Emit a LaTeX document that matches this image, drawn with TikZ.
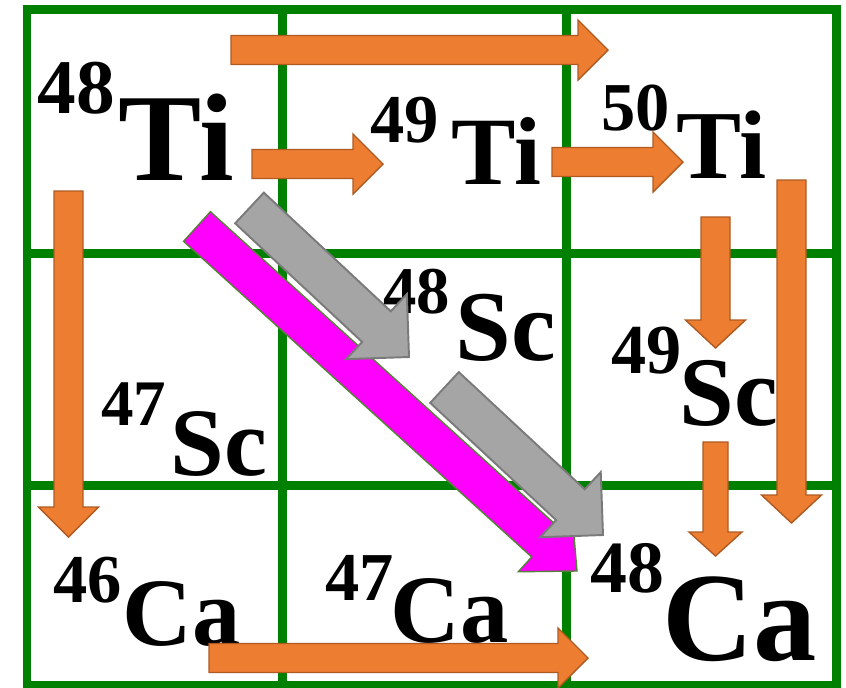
\documentclass[tikz,border=0pt]{standalone}
\usepackage{fontspec}
\setmainfont{Liberation Serif}
\definecolor{gridgreen}{RGB}{0,128,0}
\definecolor{orangefill}{RGB}{237,125,49}
\definecolor{orangeline}{RGB}{174,90,33}
\definecolor{grayfill}{RGB}{165,165,165}
\definecolor{grayline}{RGB}{122,122,122}
\definecolor{magfill}{RGB}{255,0,255}
\definecolor{magline}{RGB}{84,130,53}
\usetikzlibrary{calc}

% block arrow: style, tail, tip, shaft half width, head half width, head length
\newcommand\blockarr[6]{%
  \coordinate (hb) at ($(#3)!#6!(#2)$);
  \draw[#1] ($(#2)!#4!90:(#3)$) -- ($(hb)!#4!90:(#3)$) -- ($(hb)!#5!90:(#3)$)
    -- (#3) -- ($(hb)!#5!-90:(#3)$) -- ($(hb)!#4!-90:(#3)$) -- ($(#2)!#4!-90:(#3)$) -- cycle;
}

\begin{document}
\begin{tikzpicture}[x=0.02cm,y=-0.02cm,
  gridline/.style={gridgreen,line width=0.18cm},
  elem/.style={inner sep=0pt,anchor=base west,font=\bfseries\fontsize{#1}{#1}\selectfont},
  orangearr/.style={fill=orangefill,draw=orangeline,line width=0.8pt,line join=miter},
  grayarr/.style={fill=grayfill,draw=grayline,line width=1.1pt,line join=miter},
  magarr/.style={fill=magfill,draw=magline,line width=0.8pt,line join=miter}]

  \useasboundingbox (0,0) rectangle (846,687);

  % grid
  \foreach \gx in {27,282,566,836} \draw[gridline] (\gx,9) -- (\gx,690);
  \foreach \gy in {9,253,485,685} \draw[gridline] (22.5,\gy) -- (840.5,\gy);

  % isotopes
  \node[elem=44] (mTi48) at (37,113)  {48};
  \node[elem=71] (Ti48)  at (118,180) {Ti};
  \node[elem=39] (mTi49) at (370,142) {49};
  \node[elem=55] (Ti49)  at (451,184) {Ti};
  \node[elem=39] (mTi50) at (601,130) {50};
  \node[elem=55.5] (Ti50) at (676,178) {Ti};
  \node[elem=38] (mSc48) at (383,313) {48};
  \node[elem=57] (Sc48)  at (455,360) {Sc};
  \node[elem=40] (mSc49) at (611,373) {49};
  \node[elem=56] (Sc49)  at (679,425) {Sc};
  \node[elem=37] (mSc47) at (101,425) {47};
  \node[elem=55] (Sc47)  at (170,475) {Sc};
  \node[elem=39] (mCa46) at (53,602)  {46};
  \node[elem=55] (Ca46)  at (122,645) {Ca};
  \node[elem=39] (mCa47) at (325,600) {47};
  \node[elem=55] (Ca47)  at (390,642) {Ca};
  \node[elem=42] (mCa48) at (590,592) {48};
  \node[elem=72] (Ca48)  at (662,660) {Ca};

  % arrow ends
  \coordinate (a1) at (231,50);    \coordinate (b1) at (608,50);
  \coordinate (a2) at (252,164);   \coordinate (b2) at (383,164);
  \coordinate (a3) at (552,162);   \coordinate (b3) at (683,162);
  \coordinate (a4) at (68.5,191);  \coordinate (b4) at (68.5,537);
  \coordinate (a5) at (209,658);   \coordinate (b5) at (588,658);
  \coordinate (a6) at (715.5,217); \coordinate (b6) at (715.5,348);
  \coordinate (a7) at (791.5,180); \coordinate (b7) at (791.5,523);
  \coordinate (a8) at (715.5,442); \coordinate (b8) at (715.5,556);
  \coordinate (m1) at (197,226.5); \coordinate (n1) at (577,571);
  \coordinate (g1) at (249.5,208); \coordinate (h1) at (409,357);
  \coordinate (g2) at (444.5,387.5); \coordinate (h2) at (603,535);

  \blockarr{orangearr}{a1}{b1}{0.29cm}{0.6cm}{0.6cm}
  \blockarr{orangearr}{a2}{b2}{0.29cm}{0.6cm}{0.6cm}
  \blockarr{orangearr}{a3}{b3}{0.29cm}{0.6cm}{0.6cm}
  \blockarr{orangearr}{a4}{b4}{0.29cm}{0.6cm}{0.6cm}
  \blockarr{orangearr}{a5}{b5}{0.29cm}{0.6cm}{0.6cm}
  \blockarr{orangearr}{a6}{b6}{0.29cm}{0.6cm}{0.56cm}
  \blockarr{orangearr}{a7}{b7}{0.29cm}{0.6cm}{0.56cm}
  \blockarr{orangearr}{a8}{b8}{0.25cm}{0.53cm}{0.48cm}

  \blockarr{magarr}{m1}{n1}{0.40cm}{0.80cm}{0.86cm}
  \blockarr{grayarr}{g1}{h1}{0.42cm}{0.89cm}{0.89cm}
  \blockarr{grayarr}{g2}{h2}{0.42cm}{0.89cm}{0.89cm}
\end{tikzpicture}
\end{document}
